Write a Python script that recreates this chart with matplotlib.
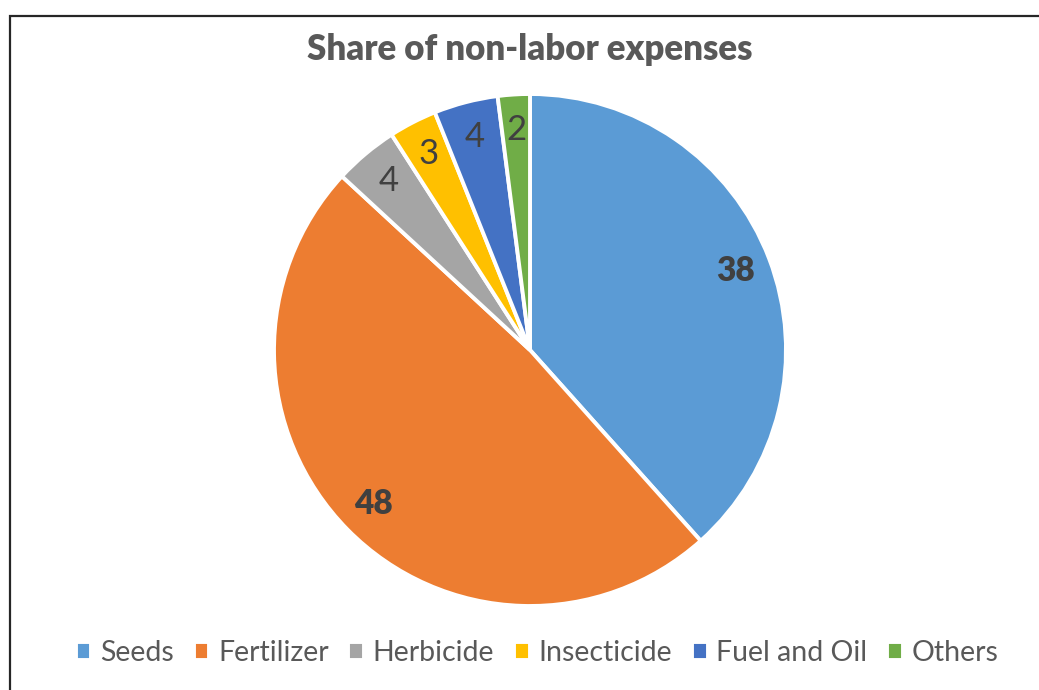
import numpy as np
import matplotlib
matplotlib.use('Agg')
import matplotlib.pyplot as plt
from matplotlib.patches import Rectangle

### Data
categories = ['Seeds', 'Fertilizer', 'Herbicide', 'Insecticide', 'Fuel and Oil', 'Others']
shares = [38, 48, 4, 3, 4, 2]
colors = ['#5B9BD5', '#ED7D31', '#A5A5A5', '#FFC000', '#4472C4', '#70AD47']
boldlabels = [True, True, False, False, False, False]

plt.rcParams['font.family'] = ['Lato', 'DejaVu Sans']

W, H = 1039, 690
fig = plt.figure(figsize=(W/100, H/100), dpi=100)

### Frame round the chart area
fig.patches.append(Rectangle((9.5/W, -0.1), 1.2, (H-15.5)/H + 0.1,
                             transform=fig.transFigure, fill=False,
                             edgecolor='#262626', linewidth=1.6))

### Pie axes, placed in pixels
cx, cy, r = 530, 350, 256
ax = fig.add_axes([(cx-r)/W, (H-cy-r)/H, 2*r/W, 2*r/H])
wedges, _ = ax.pie(shares, colors=colors, startangle=90, counterclock=False,
                   radius=1, wedgeprops=dict(edgecolor='white', linewidth=2.8))
ax.set_xlim(-1, 1)
ax.set_ylim(-1, 1)
ax.set_aspect('equal')
ax.axis('off')

for w, val, bold in zip(wedges, shares, boldlabels):
    ang = np.deg2rad((w.theta1 + w.theta2)/2)
    d = 0.86
    ax.text(d*np.cos(ang), d*np.sin(ang), str(val), ha='center', va='center',
            fontsize=24 if bold else 25, color='#404040',
            fontweight='heavy' if bold else 'normal')

fig.text(cx/W, 1 - 50/H, 'Share of non-labor expenses', ha='center', va='center',
         fontsize=25, fontweight='heavy', color='#595959')

leg = fig.legend(wedges, categories, loc='center', bbox_to_anchor=(537/W, 1 - 653/H),
                 ncol=6, frameon=False, fontsize=20.5, handlelength=0.55, handleheight=0.55,
                 handletextpad=0.3, columnspacing=0.7)
for t in leg.get_texts():
    t.set_color('#595959')

fig.savefig('out.png', dpi=100, facecolor='white')
